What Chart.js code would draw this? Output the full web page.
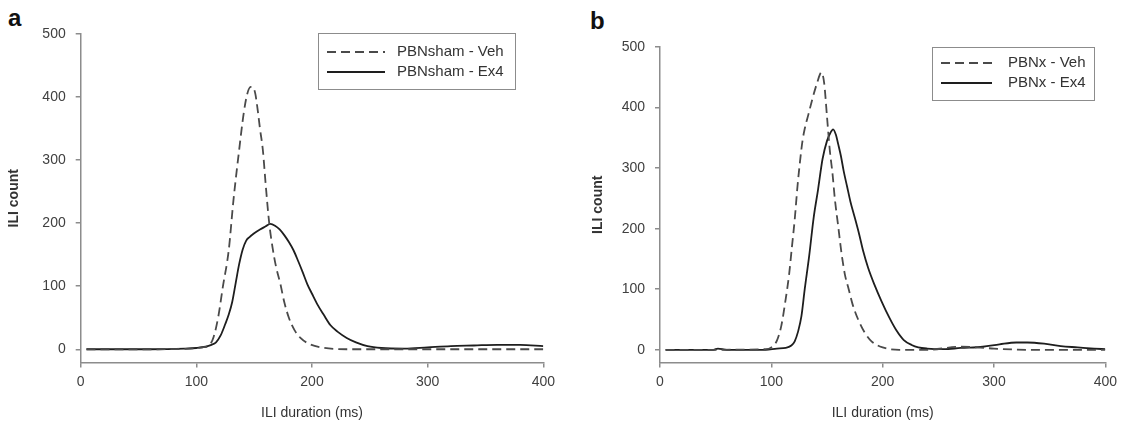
<!DOCTYPE html>
<html>
<head>
<meta charset="utf-8">
<script src="https://cdn.jsdelivr.net/npm/chart.js@4"></script>
<style>
  body { margin: 0; background: #fff; width: 1123px; height: 425px; position: relative; overflow: hidden; }
  canvas { position: absolute; top: 0; }
  .tag { position: absolute; font: bold 24px "Liberation Sans", Arial, sans-serif; color: #111; }
</style>
</head>
<body>
<div class="tag" style="left:8px;top:4px">a</div>
<div class="tag" style="left:590px;top:7px">b</div>
<canvas id="panel-a" width="561" height="425" style="left:0"></canvas>
<canvas id="panel-b" width="561" height="425" style="left:562px"></canvas>
<script>
// axis ticks
xTicks = [0, 100, 200, 300, 400];
yTicks = [0, 100, 200, 300, 400, 500];

// panel a: PBNsham
labelsA = ["PBNsham - Veh", "PBNsham - Ex4"];
xVehA = [5, 60, 95, 105, 111, 115, 119, 123, 128, 132, 137, 141, 144, 147, 149, 151, 153, 155, 157.5, 160, 163, 166, 169, 172.5, 176, 180, 185, 190, 197, 208, 230, 300, 400];
vehA  = [0, 0, 1, 3, 6, 20, 52, 100, 157, 235, 316, 375, 405, 416, 415, 405, 380, 350, 316, 260, 200, 160, 130, 105, 75, 50, 30, 18, 9, 3, 0, 0, 0];
xEx4A = [5, 60, 90, 100, 108, 113, 117, 121, 125, 128, 131, 134, 137, 140, 143, 146, 150, 155, 160, 164, 168, 172, 176, 180, 184, 188, 192, 196, 200, 205, 210, 216, 222, 230, 238, 248, 260, 280, 300, 320, 340, 360, 380, 400];
ex4A  = [0, 0, 1, 2, 4, 7, 11, 22, 40, 55, 75, 105, 135, 158, 172, 178, 184, 190, 195, 199, 196, 190, 181, 170, 157, 140, 122, 103, 88, 70, 55, 38, 28, 18, 11, 5, 2, 1, 3, 5, 6, 7, 7, 5];

// panel b: PBNx
labelsB = ["PBNx - Veh", "PBNx - Ex4"];
xVehB = [5, 50, 95, 100, 105, 109, 113, 116, 118.5, 121, 123.5, 126, 128, 130, 133.5, 137, 141, 145, 147.5, 150, 152.5, 155, 157, 160, 163, 166, 169.5, 173, 178, 184, 190, 200, 215, 240, 270, 285, 300, 330, 400];
vehB  = [0, 0, 1, 4, 15, 40, 85, 125, 170, 215, 270, 315, 345, 365, 390, 415, 440, 458, 440, 385, 330, 290, 250, 205, 160, 125, 100, 75, 50, 28, 14, 4, 0, 0, 5, 4, 2, 0, 0];
xEx4B = [5, 48, 52, 60, 95, 105, 113, 118, 121, 124, 127, 130, 134, 138, 142, 146, 150, 153, 155.5, 158, 160, 162.5, 165, 168, 171, 175, 179, 182.5, 187, 192.5, 199, 206, 212, 219, 226, 232, 240, 255, 270, 290, 305, 320, 330, 345, 360, 375, 390, 400];
ex4B  = [0, 0, 2, 0, 0, 2, 3, 7, 14, 30, 55, 100, 155, 218, 265, 315, 345, 358, 364, 355, 340, 320, 295, 270, 245, 218, 190, 163, 135, 108, 80, 53, 33, 16, 8, 4, 2, 1, 3, 5, 9, 12, 12, 10, 6, 4, 2, 1];

var FONT = '"Liberation Sans", Arial, sans-serif';
var AXIS = '#8c8c8c';

function pts(xs, ys) {
    var out = [];
    for (var i = 0; i < xs.length; i++) out.push({x: xs[i], y: ys[i]});
    return out;
}

// legend drawn as a framed box like the original figure
var boxLegend = {
    id: 'boxLegend',
    afterDraw: function(chart, args, o) {
        var ctx = chart.ctx;
        ctx.save();
        ctx.strokeStyle = '#8c8c8c';
        ctx.lineWidth = 1;
        ctx.strokeRect(o.x + 0.5, o.y + 0.5, o.w, o.h);
        ctx.font = '15px ' + FONT;
        ctx.fillStyle = '#333';
        ctx.textBaseline = 'middle';
        chart.data.datasets.forEach(function(ds, i) {
            var y = o.rows[i];
            ctx.beginPath();
            ctx.strokeStyle = ds.borderColor;
            ctx.lineWidth = ds.borderWidth;
            ctx.setLineDash(ds.borderDash || []);
            ctx.moveTo(o.x1, y);
            ctx.lineTo(o.x2, y);
            ctx.stroke();
            ctx.setLineDash([]);
            ctx.fillText(ds.label, o.textX, y);
        });
        ctx.restore();
    }
};

function makePanel(id, labels, veh, ex4, pad, yWidth, legend) {
    var ctx = document.getElementById(id).getContext('2d');
    return new Chart(ctx, {
        type: 'line',
        data: {
            datasets: [
                { label: labels[0], data: veh, borderColor: '#4a4a4a', borderWidth: 1.8, borderDash: [9, 5], pointRadius: 0, cubicInterpolationMode: 'monotone', fill: false },
                { label: labels[1], data: ex4, borderColor: '#1e1e1e', borderWidth: 1.8, pointRadius: 0, cubicInterpolationMode: 'monotone', fill: false }
            ]
        },
        options: {
            responsive: false,
            animation: false,
            layout: { padding: pad },
            plugins: {
                legend: { display: false },
                tooltip: { enabled: false },
                boxLegend: legend
            },
            scales: {
                x: {
                    type: 'linear', min: 0, max: 400,
                    afterBuildTicks: function(a) { a.ticks = xTicks.map(function(v) { return {value: v}; }); },
                    afterFit: function(a) { a.height = 62.5; },
                    grid: { drawOnChartArea: false, drawTicks: true, tickLength: 5, color: AXIS, lineWidth: 1.5 },
                    border: { display: true, color: AXIS, width: 1.5 },
                    ticks: { font: { family: FONT, size: 14 }, color: '#404040', padding: 6, maxRotation: 0 },
                    title: { display: true, text: 'ILI duration (ms)', font: { family: FONT, size: 14 }, color: '#333', padding: { top: 2, bottom: 3 } }
                },
                y: {
                    type: 'linear', min: -21, max: 500,
                    afterBuildTicks: function(a) { a.ticks = yTicks.map(function(v) { return {value: v}; }); },
                    afterFit: function(a) { a.width = yWidth; },
                    grid: { drawOnChartArea: false, drawTicks: true, tickLength: 5, color: AXIS, lineWidth: 1.5 },
                    border: { display: true, color: AXIS, width: 1.5 },
                    ticks: { font: { family: FONT, size: 14 }, color: '#404040', padding: 10 },
                    title: { display: true, text: 'ILI count', font: { family: FONT, size: 14, weight: 'bold' }, color: '#333', padding: { top: 6, bottom: 0 } }
                }
            }
        },
        plugins: [boxLegend]
    });
}

document.addEventListener('DOMContentLoaded', function() {
    makePanel('panel-a', labelsA, pts(xVehA, vehA), pts(xEx4A, ex4A),
        { left: 0, top: 34, right: 14.5, bottom: 0 }, 80.7,
        { x: 318, y: 33, w: 197, h: 56, x1: 327, x2: 385, textX: 397, rows: [52, 72] });
    makePanel('panel-b', labelsB, pts(xVehB, vehB), pts(xEx4B, ex4B),
        { left: 22, top: 47, right: 13, bottom: 0 }, 76,
        { x: 370, y: 47, w: 162, h: 53, x1: 379, x2: 430, textX: 446, rows: [63, 83] });
});
</script>
</body>
</html>
